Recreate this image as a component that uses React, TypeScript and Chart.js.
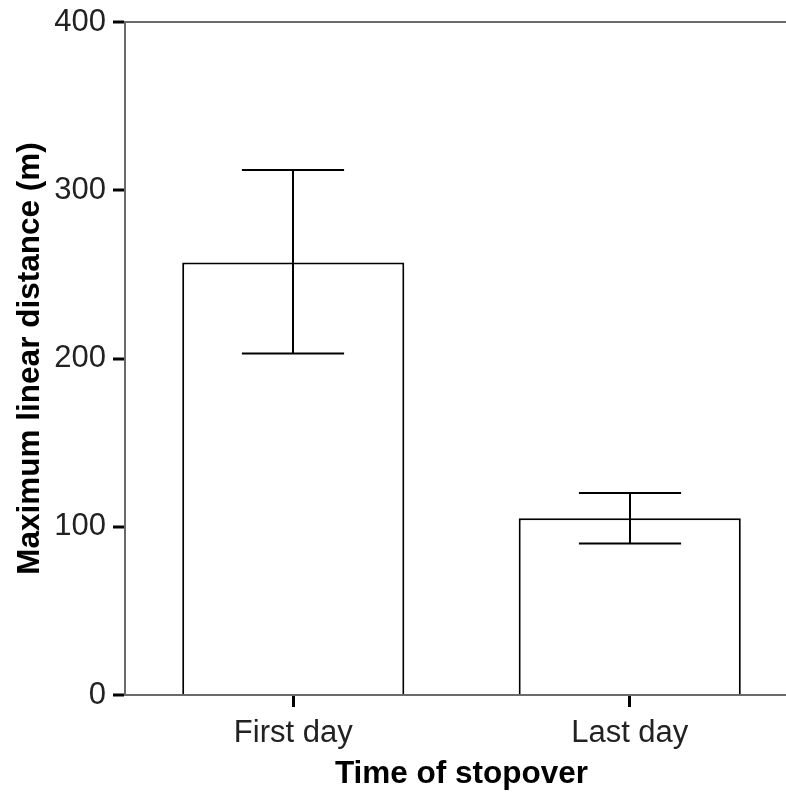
import { useEffect, useRef } from 'react';
import { Chart, registerables } from 'chart.js';

Chart.register(...registerables);

const categories = ['First day', 'Last day'];
const meanValues = [257, 105];
const errorLow = [203, 90];
const errorHigh = [312, 120];
const yTicks = [0, 100, 200, 300, 400];

const FONT = '"Liberation Sans", Arial, sans-serif';

const errorBarPlugin = {
  id: 'errorBars',
  afterDatasetsDraw(chart: any) {
    const { ctx } = chart;
    const x = chart.scales.x;
    const y = chart.scales.y;
    const meta = chart.getDatasetMeta(0);
    ctx.save();
    ctx.strokeStyle = '#000';
    ctx.lineWidth = 2;
    meta.data.forEach((bar: any, i: number) => {
      const cx = Math.round(x.getPixelForValue(i));
      const yl = y.getPixelForValue(errorLow[i]);
      const yh = y.getPixelForValue(errorHigh[i]);
      const half = bar.width * 0.23;
      ctx.beginPath();
      ctx.moveTo(cx, yl);
      ctx.lineTo(cx, yh);
      ctx.moveTo(cx - half, yh);
      ctx.lineTo(cx + half, yh);
      ctx.moveTo(cx - half, yl);
      ctx.lineTo(cx + half, yl);
      ctx.stroke();
    });
    ctx.restore();
  },
};

export default function App() {
  const ref = useRef<HTMLCanvasElement | null>(null);

  useEffect(() => {
    const canvas = ref.current;
    if (!canvas) return;
    const chart = new Chart(canvas, {
      type: 'bar',
      data: {
        labels: categories,
        datasets: [
          {
            data: meanValues,
            backgroundColor: '#ffffff',
            borderColor: '#000000',
            borderWidth: 2,
            barPercentage: 0.66,
            categoryPercentage: 1,
          },
        ],
      },
      options: {
        responsive: false,
        animation: false,
        devicePixelRatio: 1,
        layout: { padding: { top: 22, left: 0, right: 0, bottom: 0 } },
        plugins: {
          legend: { display: false },
          tooltip: { enabled: false },
        },
        scales: {
          x: {
            offset: true,
            grid: {
              offset: false,
              drawOnChartArea: false,
              drawTicks: true,
              tickLength: 12,
              tickColor: '#000',
              tickWidth: 3,
            },
            border: { display: true, color: '#6a6a6a', width: 2 },
            ticks: {
              color: '#222',
              padding: 8,
              font: { family: FONT, size: 31 },
            },
            title: {
              display: true,
              text: 'Time of stopover',
              color: '#000',
              font: { family: FONT, size: 31.5, weight: 'bold' },
              padding: { top: 0, bottom: 2 },
            },
            afterFit: (s: any) => {
              s.height = 100;
              s.paddingLeft = 0;
              s.paddingRight = 0;
            },
          },
          y: {
            min: 0,
            max: 400,
            afterBuildTicks: (s: any) => {
              s.ticks = yTicks.map((v) => ({ value: v }));
            },
            grid: {
              drawOnChartArea: true,
              drawTicks: true,
              tickLength: 12,
              tickColor: '#000',
              tickWidth: 3,
              lineWidth: 2,
              color: (c: any) =>
                c.tick && c.tick.value === 400 ? '#6a6a6a' : 'rgba(0,0,0,0)',
            },
            border: { display: true, color: '#6a6a6a', width: 2 },
            ticks: {
              color: '#222',
              padding: 7,
              font: { family: FONT, size: 31 },
            },
            title: {
              display: true,
              text: 'Maximum linear distance (m)',
              color: '#000',
              font: { family: FONT, size: 31.5, weight: 'bold' },
              padding: { top: 11, bottom: 0 },
            },
            afterFit: (s: any) => {
              s.width = 125;
              s.paddingTop = 0;
              s.paddingBottom = 0;
            },
          },
        },
      },
      plugins: [errorBarPlugin],
    });
    return () => chart.destroy();
  }, []);

  return (
    <div
      style={{
        position: 'fixed',
        left: 0,
        top: 0,
        width: 786,
        height: 795,
        overflow: 'hidden',
        background: '#fff',
      }}
    >
      <canvas ref={ref} width={798} height={795} style={{ width: 798, height: 795, display: 'block' }} />
    </div>
  );
}
